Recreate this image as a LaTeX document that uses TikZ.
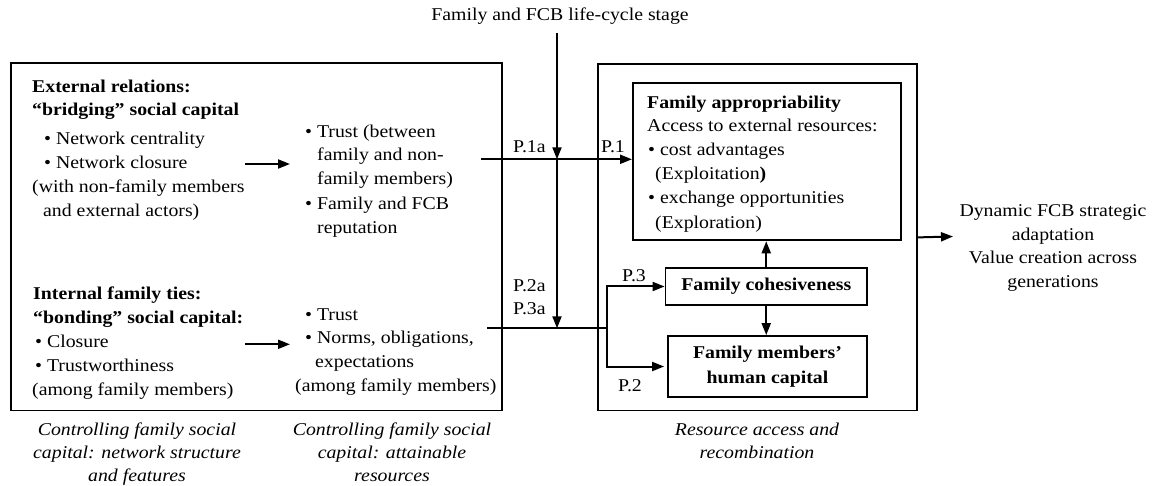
\documentclass[tikz,border=0pt]{standalone}
\usepackage{fontspec}
\setmainfont{Liberation Serif}[FakeStretch=1.1]
\usetikzlibrary{arrows.meta}
\begin{document}
\begin{tikzpicture}[x=1pt,y=-1pt,
  font=\fontsize{18}{24}\selectfont,
  txt/.style={anchor=base west, inner sep=0pt},
  ctxt/.style={anchor=base, inner sep=0pt},
  captxt/.style={anchor=base, inner sep=0pt, font=\fontsize{18}{24}\selectfont\itshape},
  frame/.style={draw, line width=1.8pt, inner sep=0pt},
  arr/.style={line width=2pt, -{Triangle[length=12pt,width=9pt]}},
  plain/.style={line width=2pt}]
\useasboundingbox (0,0) rectangle (1154,486);

% outer frames
\node[frame, anchor=north west, minimum width=491pt, minimum height=347pt] (leftbox) at (10,62.5) {};
\node[frame, anchor=north west, minimum width=319pt, minimum height=346pt] (rightbox) at (597,63.5) {};

% resource boxes
\node[frame, anchor=north west, minimum width=268pt, minimum height=157pt] (approp) at (632,82.5) {};
\node[frame, minimum width=201.5pt, minimum height=37pt] (cohes) at (766.25,286.5) {\textbf{Family cohesiveness}};
\node[frame, minimum width=199pt, minimum height=61pt, align=center] (human) at (767.5,366.5)
  {\textbf{Family members’}\\[1pt]\textbf{human capital}};

% moderator
\node[ctxt] (stage) at (560,20.5) {Family and FCB life-cycle stage};

% bridging social capital
\node[txt] (ext1) at (32,92.5) {\textbf{External relations:}};
\node[txt] (ext2) at (32,115.5) {\textbf{“bridging” social capital}};
\node[txt] (ext3) at (44,145) {• Network centrality};
\node[txt] (ext4) at (44,169) {• Network closure};
\node[txt] (ext5) at (32,192.7) {(with non-family members};
\node[txt] (ext6) at (43,216.7) {and external actors)};

\node[txt] (res1) at (305,137.3) {• Trust (between};
\node[txt] (res2) at (317,161) {family and non-};
\node[txt] (res3) at (317,185) {family members)};
\node[txt] (res4) at (305,209.3) {• Family and FCB};
\node[txt] (res5) at (317,233.3) {reputation};

% bonding social capital
\node[txt] (int1) at (33,299.3) {\textbf{Internal family ties:}};
\node[txt] (int2) at (33,323.3) {\textbf{“bonding” social capital:}};
\node[txt] (int3) at (35,347.3) {• Closure};
\node[txt] (int4) at (35,371) {• Trustworthiness};
\node[txt] (int5) at (32,395) {(among family members)};

\node[txt] (bres1) at (305,320) {• Trust};
\node[txt] (bres2) at (305,343.3) {• Norms, obligations,};
\node[txt] (bres3) at (315,367.3) {expectations};
\node[txt] (bres4) at (295,391.7) {(among family members)};

% appropriability box text
\node[txt] (ap1) at (647,108.3) {\textbf{Family appropriability}};
\node[txt] (ap2) at (647,131.7) {Access to external resources:};
\node[txt] (ap3) at (648,156) {• cost advantages};
\node[txt] (ap4) at (655,180) {(Exploitation\textbf{)}};
\node[txt] (ap5) at (648,203.3) {• exchange opportunities};
\node[txt] (ap6) at (655,228.3) {(Exploration)};

% outcome
\node[ctxt] (out1) at (1053,216.7) {Dynamic FCB strategic};
\node[ctxt] (out2) at (1053,240.7) {adaptation};
\node[ctxt] (out3) at (1053,264) {Value creation across};
\node[ctxt] (out4) at (1053,287.3) {generations};

% proposition labels
\node[txt] (p1a) at (513,153) {P.1a};
\node[txt] (p1) at (601,153) {P.1};
\node[txt] (p2a) at (513,291.7) {P.2a};
\node[txt] (p3a) at (513,315) {P.3a};
\node[txt] (p3) at (622,281.7) {P.3};
\node[txt] (p2) at (618,391.7) {P.2};

% captions
\node[captxt] (cap1a) at (137,435) {Controlling family social};
\node[captxt] (cap1b) at (137,458) {capital: network structure};
\node[captxt] (cap1c) at (137,481) {and features};
\node[captxt] (cap2a) at (392,435) {Controlling family social};
\node[captxt] (cap2b) at (392,458) {capital: attainable};
\node[captxt] (cap2c) at (392,481) {resources};
\node[captxt] (cap3a) at (757,435) {Resource access and};
\node[captxt] (cap3b) at (757,458) {recombination};

% connector end points
\coordinate (a1s) at (245,164);
\coordinate (a1e) at (290,164);
\coordinate (a2s) at (245,344.3);
\coordinate (a2e) at (290,344.3);
\coordinate (lc) at (557,33);
\coordinate (j1) at (557,159.3);
\coordinate (j2) at (557,328.3);
\coordinate (h1s) at (481,159.3);
\coordinate (h2s) at (487,328.3);
\coordinate (br) at (607,328.3);
\coordinate (outtip) at (953,236.5);

% connectors
\draw[arr] (a1s) -- (a1e);
\draw[arr] (a2s) -- (a2e);
\draw[arr] (lc) -- (j1);
\draw[arr] (j1) -- (j2);
\draw[arr] (h1s) -- (approp.west |- h1s);
\draw[plain] (h2s) -- (br);
\draw[arr] (br) |- (cohes.west);
\draw[arr, shorten >=3pt] (br) |- (human.west);
\draw[arr] (cohes.north) -- (cohes.north |- approp.south);
\draw[arr] (cohes.south) -- (cohes.south |- human.north);
\draw[arr] (rightbox.east) -- (outtip);
\end{tikzpicture}
\end{document}
